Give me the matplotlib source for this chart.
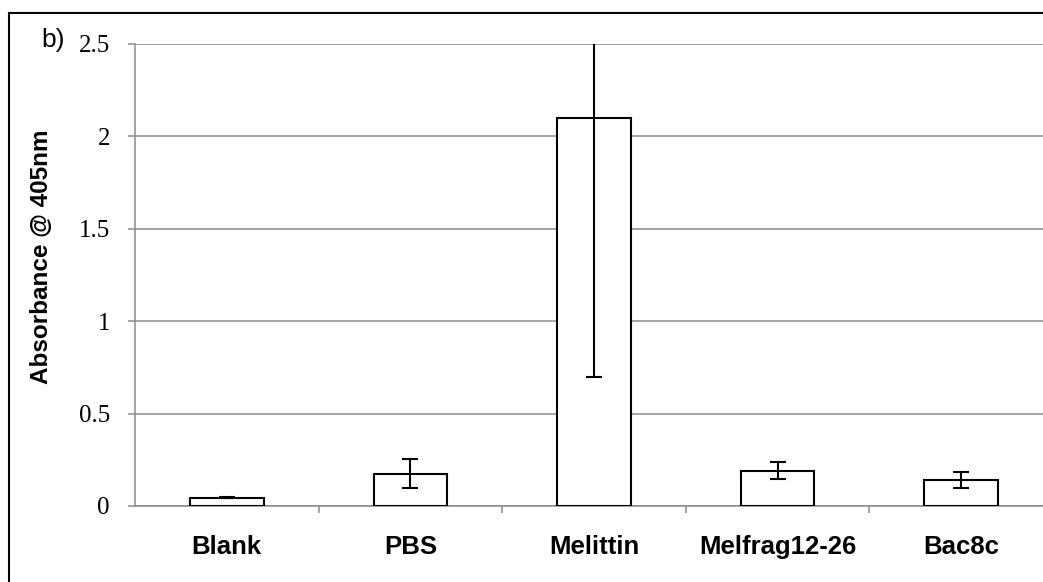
import matplotlib
matplotlib.use('Agg')
import matplotlib.pyplot as plt
from matplotlib.patches import Rectangle
import numpy as np

# data
categories = ['Blank', 'PBS', 'Melittin', 'Melfrag12-26', 'Bac8c']
absorbance = [0.045, 0.175, 2.10, 0.191, 0.139]
errors = [0.004, 0.079, 1.40, 0.046, 0.044]
yticks = [0, 0.5, 1, 1.5, 2, 2.5]
yticklabels = ['0', '0.5', '1', '1.5', '2', '2.5']

W, H = 1043, 582
fig = plt.figure(figsize=(W/100, H/100), dpi=100)

# plot area runs past the right edge of the picture, as in the reference
left, right, bottom, top = 135, 1053, 506, 44
ax = fig.add_axes([left/W, (H-bottom)/H, (right-left)/W, (bottom-top)/H])

x = np.arange(len(categories))
ax.bar(x, absorbance, width=0.4, color='white', edgecolor='black',
       linewidth=1.5, zorder=3)
ax.errorbar(x, absorbance, yerr=errors, fmt='none', ecolor='black',
            elinewidth=1.5, capsize=6, capthick=1.5, zorder=4)

ax.set_xlim(-0.5, len(categories)-0.5)
ax.set_ylim(0, 2.5)
ax.set_yticks(yticks)
ax.set_yticklabels(yticklabels, fontfamily='Liberation Serif', fontsize=18)
ax.yaxis.grid(True, color='#8c8c8c', linewidth=1.1, zorder=0)
ax.set_axisbelow(True)

# category labels centred, tick marks between categories
ax.set_xticks(x)
ax.set_xticklabels(categories, fontfamily='Liberation Sans',
                   fontweight='bold', fontsize=18.5)
ax.set_xticks(np.arange(len(categories)-1)+0.5, minor=True)
ax.tick_params(axis='x', which='major', length=0, pad=21)
ax.tick_params(axis='x', which='minor', length=5, width=1.1, color='#8c8c8c')
ax.tick_params(axis='y', length=5, width=1.1, color='#8c8c8c', pad=13)

for s in ['top', 'right']:
    ax.spines[s].set_visible(False)
for s in ['left', 'bottom']:
    ax.spines[s].set_color('#8c8c8c')
    ax.spines[s].set_linewidth(1.1)

fig.text(42/W, (H-257)/H, 'Absorbance @ 405nm', rotation=90,
         ha='center', va='center', fontfamily='Liberation Sans',
         fontweight='bold', fontsize=17.5)
fig.text(41/W, (H-40)/H, 'b)', ha='left', va='center',
         fontfamily='Liberation Sans', fontsize=19)

# outer frame of the original figure (cut off on the right and bottom)
fig.patches.append(Rectangle((9/W, -0.1), 1.1, (H-13)/H + 0.1,
                             transform=fig.transFigure, fill=False,
                             edgecolor='black', linewidth=1.5))

fig.savefig('out.png', dpi=100)
